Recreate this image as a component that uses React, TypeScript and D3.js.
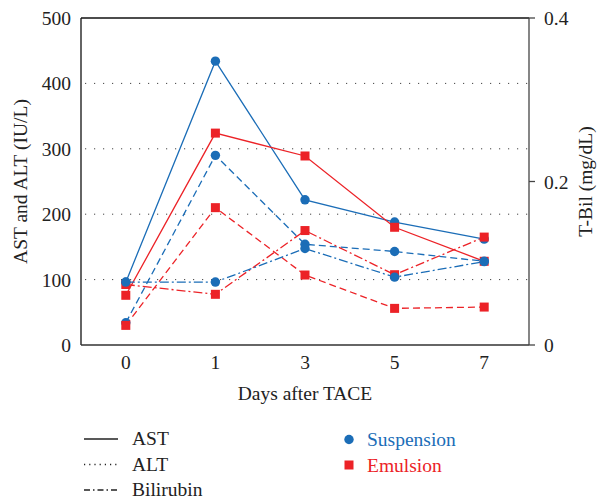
import React, { useEffect, useRef } from 'react';
import * as d3 from 'd3';

const days = ['0', '1', '3', '5', '7'];
const yTicks = [0, 100, 200, 300, 400, 500];
const gridTicks = [100, 200, 300, 400];
const rightTicks = [0, 0.2, 0.4];

// IU/L
const astSuspension = [96, 434, 222, 188, 162];
const astEmulsion = [76, 324, 289, 180, 128];
const altSuspension = [34, 290, 154, 143, 128];
const altEmulsion = [30, 210, 107, 56, 58];
// mg/dL
const biliSuspension = [0.077, 0.077, 0.118, 0.083, 0.102];
const biliEmulsion = [0.074, 0.062, 0.14, 0.086, 0.132];

const BLUE = '#1b6db7';
const RED = '#ec2227';
const FONT = '"Liberation Serif", "Times New Roman", serif';

const App = () => {
  const svgRef = useRef(null);

  useEffect(() => {
    const svg = d3.select(svgRef.current);
    svg.selectAll('*').remove();

    const left = 81, right = 529, top = 18, bottom = 345;

    const x = d3.scalePoint().domain(days).range([left, right]).padding(0.5);
    const y = d3.scaleLinear().domain([0, 500]).range([bottom, top]);
    const y2 = d3.scaleLinear().domain([0, 0.4]).range([bottom, top]);

    // dotted grid
    svg.selectAll('.grid')
      .data(gridTicks)
      .enter()
      .append('line')
      .attr('x1', left + 4)
      .attr('x2', right)
      .attr('y1', d => y(d))
      .attr('y2', d => y(d))
      .attr('stroke', '#444')
      .attr('stroke-width', 1)
      .attr('stroke-dasharray', '1.2 7.8');

    // frame
    svg.append('line').attr('x1', left).attr('x2', right).attr('y1', top).attr('y2', top)
      .attr('stroke', '#111').attr('stroke-width', 1.3);
    svg.append('line').attr('x1', left).attr('x2', left).attr('y1', top).attr('y2', bottom)
      .attr('stroke', '#111').attr('stroke-width', 1.3);
    svg.append('line').attr('x1', left).attr('x2', right).attr('y1', bottom).attr('y2', bottom)
      .attr('stroke', '#333').attr('stroke-width', 1.3);
    svg.append('line').attr('x1', right).attr('x2', right).attr('y1', top).attr('y2', bottom)
      .attr('stroke', '#444').attr('stroke-width', 1.3);

    // left tick labels
    svg.selectAll('.ylab')
      .data(yTicks)
      .enter()
      .append('text')
      .attr('x', 71)
      .attr('y', d => y(d) + 7)
      .attr('text-anchor', 'end')
      .style('font-family', FONT)
      .style('font-size', '19.5px')
      .attr('fill', '#222')
      .text(d => d);

    // right ticks
    svg.selectAll('.rtick')
      .data(rightTicks)
      .enter()
      .append('line')
      .attr('x1', right)
      .attr('x2', right + 6)
      .attr('y1', d => y2(d))
      .attr('y2', d => y2(d))
      .attr('stroke', '#444')
      .attr('stroke-width', 1.3);

    svg.selectAll('.rlab')
      .data(rightTicks)
      .enter()
      .append('text')
      .attr('x', 544)
      .attr('y', d => y2(d) + 7)
      .style('font-family', FONT)
      .style('font-size', '19.5px')
      .attr('fill', '#222')
      .text(d => (d === 0 ? '0' : d.toFixed(1)));

    // bottom tick labels
    svg.selectAll('.xlab')
      .data(days)
      .enter()
      .append('text')
      .attr('x', d => x(d))
      .attr('y', 369)
      .attr('text-anchor', 'middle')
      .style('font-family', FONT)
      .style('font-size', '19.5px')
      .attr('fill', '#222')
      .text(d => d);

    // axis titles
    svg.append('text')
      .attr('transform', `translate(27, ${(top + bottom) / 2}) rotate(-90)`)
      .attr('text-anchor', 'middle')
      .style('font-family', FONT)
      .style('font-size', '19.5px')
      .attr('fill', '#222')
      .text('AST and ALT (IU/L)');

    svg.append('text')
      .attr('transform', `translate(592, ${y2(0.2)}) rotate(-90)`)
      .attr('text-anchor', 'middle')
      .style('font-family', FONT)
      .style('font-size', '19.5px')
      .attr('fill', '#222')
      .text('T-Bil (mg/dL)');

    svg.append('text')
      .attr('x', (left + right) / 2)
      .attr('y', 400)
      .attr('text-anchor', 'middle')
      .style('font-family', FONT)
      .style('font-size', '19.5px')
      .attr('fill', '#222')
      .text('Days after TACE');

    // drawing order matters for overlapping markers
    const series = [
      { vals: astSuspension, scale: y, color: BLUE, dash: null, mark: 'circle' },
      { vals: astEmulsion, scale: y, color: RED, dash: null, mark: 'square' },
      { vals: altSuspension, scale: y, color: BLUE, dash: '7 4', mark: 'circle' },
      { vals: altEmulsion, scale: y, color: RED, dash: '7 4', mark: 'square' },
      { vals: biliEmulsion, scale: y2, color: RED, dash: '9 3 2 3', mark: 'square' },
      { vals: biliSuspension, scale: y2, color: BLUE, dash: '9 3 2 3', mark: 'circle' },
    ];

    series.forEach(s => {
      const line = d3.line<number>()
        .x((d, i) => x(days[i]))
        .y(d => s.scale(d));
      svg.append('path')
        .attr('d', line(s.vals))
        .attr('fill', 'none')
        .attr('stroke', s.color)
        .attr('stroke-width', 1.3)
        .attr('stroke-dasharray', s.dash);
    });

    series.forEach(s => {
      if (s.mark === 'circle') {
        svg.selectAll(null)
          .data(s.vals)
          .enter()
          .append('circle')
          .attr('cx', (d, i) => x(days[i]))
          .attr('cy', d => s.scale(d))
          .attr('r', 4.7)
          .attr('fill', s.color);
      } else {
        svg.selectAll(null)
          .data(s.vals)
          .enter()
          .append('rect')
          .attr('x', (d, i) => x(days[i]) - 4.5)
          .attr('y', d => s.scale(d) - 4.5)
          .attr('width', 9)
          .attr('height', 9)
          .attr('fill', s.color);
      }
    });

    // legend: line styles
    const lineLegend = [
      { label: 'AST', dash: null },
      { label: 'ALT', dash: '1.2 4' },
      { label: 'Bilirubin', dash: '6 3 1.5 3' },
    ];
    const lg = svg.append('g');
    lineLegend.forEach((d, i) => {
      const ly = 439 + i * 25.5;
      lg.append('line')
        .attr('x1', 84).attr('x2', 118)
        .attr('y1', ly).attr('y2', ly)
        .attr('stroke', '#222')
        .attr('stroke-width', 1.3)
        .attr('stroke-dasharray', d.dash);
      lg.append('text')
        .attr('x', 132)
        .attr('y', ly + 6)
        .style('font-family', FONT)
        .style('font-size', '19.5px')
        .attr('fill', '#222')
        .text(d.label);
    });

    // legend: formulations
    lg.append('circle').attr('cx', 349).attr('cy', 439.5).attr('r', 4.7).attr('fill', BLUE);
    lg.append('text').attr('x', 367).attr('y', 446)
      .style('font-family', FONT).style('font-size', '19.5px')
      .attr('fill', BLUE).text('Suspension');
    lg.append('rect').attr('x', 344.5).attr('y', 460.5).attr('width', 9).attr('height', 9).attr('fill', RED);
    lg.append('text').attr('x', 367).attr('y', 471.5)
      .style('font-family', FONT).style('font-size', '19.5px')
      .attr('fill', RED).text('Emulsion');
  }, []);

  return (
    <svg
      ref={svgRef}
      width={597}
      height={502}
      viewBox="0 0 597 502"
      style={{ position: 'absolute', left: 0, top: 0, background: '#fff' }}
    />
  );
};

export default App;
